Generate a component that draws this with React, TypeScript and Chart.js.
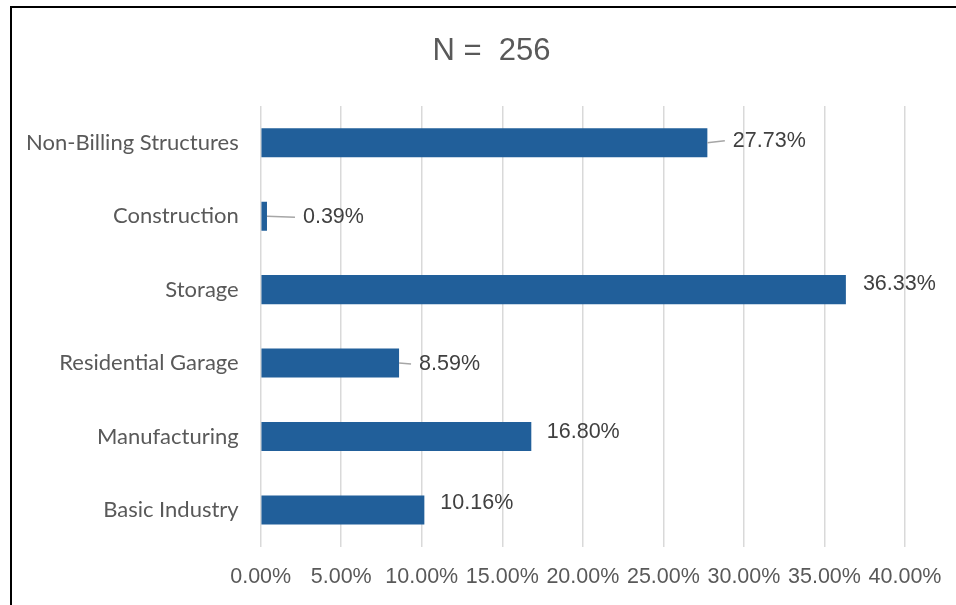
import React, { useEffect, useRef } from 'react';
import { Chart, registerables } from 'chart.js';

Chart.register(...registerables);

const categories = [
  'Non-Billing Structures',
  'Construction',
  'Storage',
  'Residential Garage',
  'Manufacturing',
  'Basic Industry',
];
const shares = [27.73, 0.39, 36.33, 8.59, 16.8, 10.16];
const axisMin = 0;
const axisMax = 40;
const axisStep = 5;
const titleText = 'N =  256';

// label placement styling (offsets from bar end / centre, leader lines)
const labelDx = [25.5, 36, 17, 20, 15.5, 16];
const labelDy = [-2, 1, -6, 1, -4.5, -7];
const labelLeader = [true, true, false, true, false, false];

const BAR_COLOR = '#215F9A';
const GRID_COLOR = '#D9D9D9';

const dataLabelPlugin = {
  id: 'dataLabels',
  afterDatasetsDraw(chart: any) {
    const ctx = chart.ctx;
    const meta = chart.getDatasetMeta(0);
    ctx.save();
    ctx.font = '21.5px "Liberation Sans", Arial, sans-serif';
    ctx.textBaseline = 'middle';
    ctx.textAlign = 'left';
    meta.data.forEach((bar: any, i: number) => {
      const v = chart.data.datasets[0].data[i] as number;
      const lx = bar.x + labelDx[i];
      const ly = bar.y + labelDy[i];
      if (labelLeader[i]) {
        ctx.strokeStyle = '#A6A6A6';
        ctx.lineWidth = 1.5;
        ctx.beginPath();
        ctx.moveTo(bar.x, bar.y);
        ctx.lineTo(lx - 8, ly);
        ctx.stroke();
      }
      ctx.fillStyle = '#404040';
      ctx.fillText(v.toFixed(2) + '%', lx, ly);
    });
    ctx.restore();
  },
};

const titlePlugin = {
  id: 'customTitle',
  afterDraw(chart: any) {
    const ctx = chart.ctx;
    ctx.save();
    ctx.font = '31px "Liberation Sans", Arial, sans-serif';
    ctx.fillStyle = '#595959';
    ctx.textAlign = 'center';
    ctx.textBaseline = 'middle';
    ctx.fillText(titleText, 491.5, 51);
    ctx.restore();
  },
};

export default function App() {
  const canvasRef = useRef<HTMLCanvasElement | null>(null);

  useEffect(() => {
    if (!canvasRef.current) return;
    const chart = new Chart(canvasRef.current, {
      type: 'bar',
      data: {
        labels: categories,
        datasets: [
          {
            data: shares,
            backgroundColor: BAR_COLOR,
            borderWidth: 0,
            categoryPercentage: 1,
            barPercentage: 0.395,
          },
        ],
      },
      plugins: [dataLabelPlugin, titlePlugin],
      options: {
        indexAxis: 'y',
        animation: false,
        responsive: false,
        devicePixelRatio: 1,
        layout: { padding: { top: 106, right: 51, bottom: 0, left: 0 } },
        plugins: {
          legend: { display: false },
          title: { display: false },
          tooltip: { enabled: false },
        },
        scales: {
          x: {
            type: 'linear',
            min: axisMin,
            max: axisMax,
            ticks: {
              stepSize: axisStep,
              padding: 17,
              color: '#595959',
              font: { family: '"Liberation Sans", Arial, sans-serif', size: 21.5 },
              callback: (v: any) => Number(v).toFixed(2) + '%',
              maxRotation: 0,
              autoSkip: false,
            },
            grid: { color: GRID_COLOR, lineWidth: 1.5, drawTicks: false },
            border: { display: false },
            afterFit: (scale: any) => {
              scale.height = 58.3;
              scale.paddingLeft = 0;
              scale.paddingRight = 0;
            },
          },
          y: {
            type: 'category',
            ticks: {
              padding: 22,
              color: '#595959',
              font: { family: 'Lato, "Open Sans", sans-serif', size: 22 },
              autoSkip: false,
            },
            grid: { display: false, drawTicks: false },
            border: { display: false },
            afterFit: (scale: any) => {
              scale.width = 260.7;
            },
          },
        },
      },
    });
    return () => chart.destroy();
  }, []);

  return (
    <div
      style={{
        position: 'fixed',
        left: 0,
        top: 0,
        width: 956,
        height: 605,
        overflow: 'hidden',
        background: '#ffffff',
      }}
    >
      <div
        style={{
          position: 'absolute',
          left: 10,
          top: 6,
          width: 980,
          height: 660,
          border: '2px solid #000000',
          boxSizing: 'border-box',
        }}
      />
      <canvas
        ref={canvasRef}
        width={956}
        height={605}
        style={{ position: 'absolute', left: 0, top: 0, width: 956, height: 605 }}
      />
    </div>
  );
}
